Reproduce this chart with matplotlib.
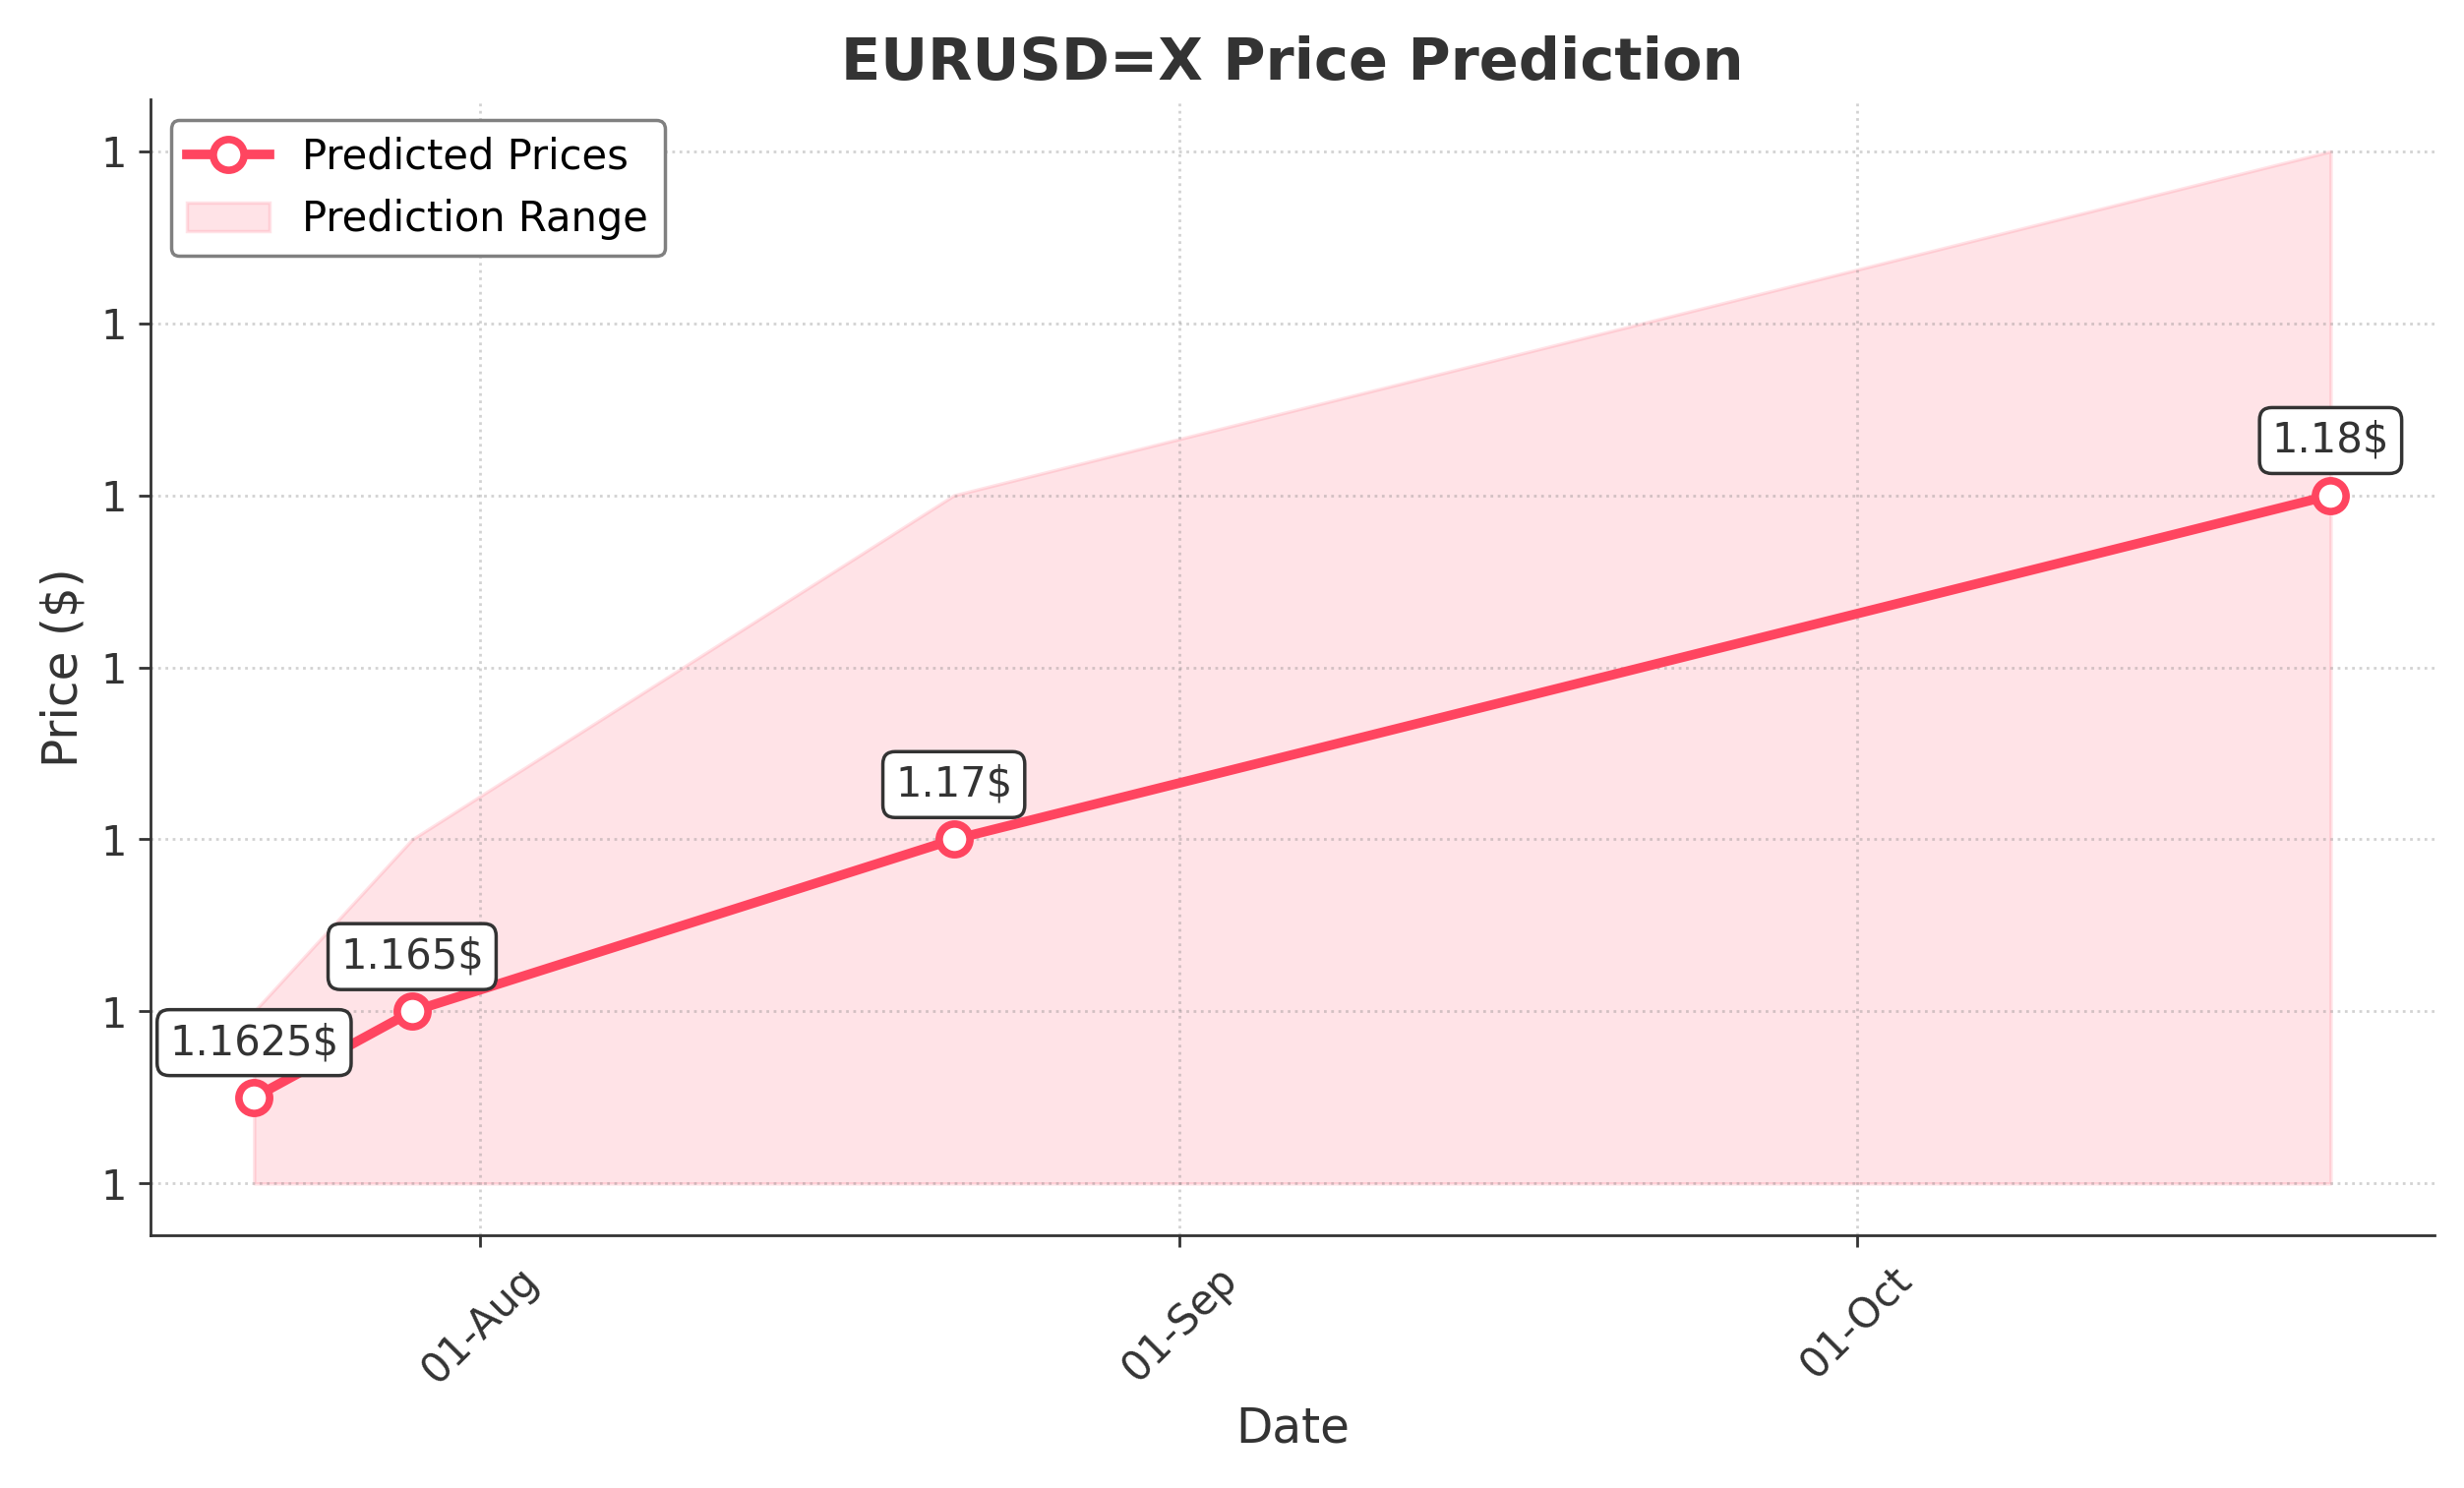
import numpy as np
import pandas as pd
import matplotlib
matplotlib.use('Agg')
import matplotlib.pyplot as plt
import matplotlib.dates as mdates
from matplotlib.ticker import StrMethodFormatter

dates = pd.to_datetime(['2025-07-22', '2025-07-29', '2025-08-22', '2025-10-22'])
predicted = [1.1625, 1.165, 1.17, 1.18]
range_low = [1.16, 1.16, 1.16, 1.16]
range_high = [1.165, 1.17, 1.18, 1.19]
labels = ['1.1625$', '1.165$', '1.17$', '1.18$']

line_color = '#FF4560'
text_color = '#333333'

fig, ax = plt.subplots(figsize=(10.02, 6.052), dpi=250)

ax.fill_between(dates, range_low, range_high, color=line_color, alpha=0.15, label='Prediction Range')
ax.plot(dates, predicted, '-o', color=line_color, lw=2.8, markersize=9,
        markerfacecolor='white', markeredgewidth=2.2, label='Predicted Prices')

for d, p, lab in zip(dates, predicted, labels):
    ax.annotate(lab, (d, p), xytext=(0, 10), textcoords='offset points',
                ha='center', va='bottom', fontsize=12, color=text_color,
                bbox=dict(boxstyle='round,pad=0.3', fc='white', ec=text_color, lw=1))

ax.set_title('EURUSD=X Price Prediction', fontsize=17, fontweight='bold', color=text_color)
ax.set_xlabel('Date', fontsize=14, color=text_color)
ax.set_ylabel('Price ($)', fontsize=14, color=text_color)

ax.xaxis.set_major_locator(mdates.MonthLocator())
ax.xaxis.set_major_formatter(mdates.DateFormatter('%d-%b'))
ax.yaxis.set_major_formatter(StrMethodFormatter('{x:.0f}'))
plt.setp(ax.get_xticklabels(), rotation=45)
ax.tick_params(colors=text_color, labelsize=12)

ax.grid(True, linestyle=':', color='gray', alpha=0.35)
for s in ['top', 'right']:
    ax.spines[s].set_visible(False)
for s in ['left', 'bottom']:
    ax.spines[s].set_color(text_color)

handles, labs = ax.get_legend_handles_labels()
leg = ax.legend(handles[::-1], labs[::-1], loc='upper left', fontsize=12, framealpha=1)
leg.get_frame().set_edgecolor('gray')

plt.subplots_adjust(left=0.061, right=0.988, top=0.933, bottom=0.17)
plt.savefig('out.png', dpi=250)
